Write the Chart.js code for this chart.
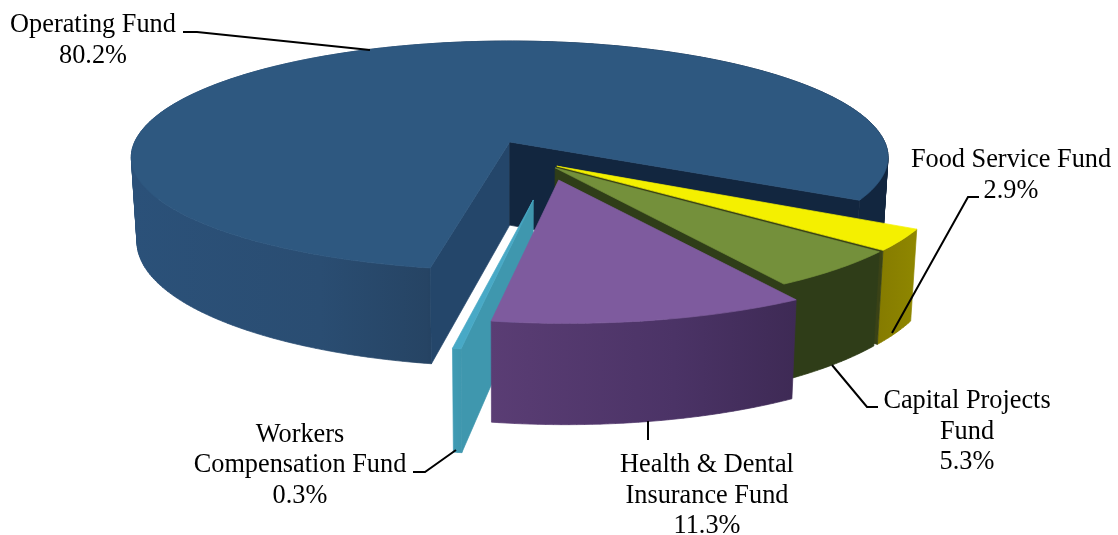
<!DOCTYPE html>
<html>
<head>
<meta charset="utf-8">
<title>Funds</title>
<script src="https://cdn.jsdelivr.net/npm/chart.js@4/dist/chart.umd.min.js"></script>
<style>
    html, body { margin: 0; padding: 0; background: #ffffff; }
    canvas { display: block; }
</style>
</head>
<body>
<canvas id="fundpie" width="1118" height="535"></canvas>
<script>
// values, clockwise from the yellow slice
var categories = ['Food Service Fund', 'Capital Projects Fund', 'Health & Dental Insurance Fund', 'Workers Compensation Fund', 'Operating Fund'];
var values = [2.9, 5.3, 11.3, 0.3, 80.2];
var labelLines = [
    ['Food Service Fund'],
    ['Capital Projects', 'Fund'],
    ['Health & Dental', 'Insurance Fund'],
    ['Workers', 'Compensation Fund'],
    ['Operating Fund']
];

// how far each slice is pulled out, in percent of the radius
var explode = [3, 5, 12.5, 28, 21.6];
var nudge = [[0.004, -0.008], [-0.0084, -0.0146], [0.008, -0.001], [0.0145, 0.0014], [-0.002, 0]];
var sizeScale = [0.987, 0.98, 1, 0.984, 1];
var frontFlat = [1, 1, 0.98, 1, 0.97];
var drawOrder = [4, 0, 1, 3, 2];

var topColors = ['#f4f000', '#74903b', '#7e5b9e', '#48a9c6', '#2e5880'];
var endColors = ['#3a4216', '#2f3d18', '#3f2a55', '#3b8fa8', '#12263f'];
var startColors = ['#8a7f00', '#2f3d18', '#54386f', '#3f97ae', '#24466a'];
var wallStops = [
    [[0, '#857b00'], [1, '#8f8700']],
    [[0, '#2f3d18'], [1, '#2f3d18']],
    [[0, '#5a3d74'], [0.6, '#4b3366'], [1, '#3e2a55']],
    [[0, '#3f9bb4'], [1, '#3f97ae']],
    [[0, '#2b5179'], [0.25, '#2a4d72'], [0.39, '#264464'], [0.48, '#12263f'], [1, '#12263f']]
];

var labelPos = [[1011, 167], [967, 408], [707, 472], [300, 441.5], [93, 32]];
var leaders = [
    [[979, 197], [968, 197], [892, 333]],
    [[832, 365], [867, 407], [878, 407]],
    [[648, 421], [648, 440]],
    [[456, 450], [425, 472], [413, 472]],
    [[183, 32], [197, 32], [370, 50]]
];

// perspective of the tilted disc
var view = { x0: 511, horizon: -690, h: 832, k: 0.138, f: 375, depth: 0.1, squeeze: 0.985 };
var centre = { x: 0.09, y: 0.195 };

function project(X, Y, bottom) {
    var w = 1 - view.k * Y;
    var sx = view.f * X / w;
    var sy = view.h / w;
    if (bottom) {
        return [view.x0 + sx * view.squeeze, view.horizon + sy * (1 + view.depth)];
    }
    return [view.x0 + sx, view.horizon + sy];
}

function addPoly(ctx, pts) {
    ctx.moveTo(pts[0][0], pts[0][1]);
    for (var i = 1; i < pts.length; i++) {
        ctx.lineTo(pts[i][0], pts[i][1]);
    }
    ctx.closePath();
}

function poly(ctx, pts, fill) {
    ctx.beginPath();
    addPoly(ctx, pts);
    ctx.fillStyle = fill;
    ctx.strokeStyle = fill;
    ctx.lineWidth = 0.7;
    ctx.fill();
    ctx.stroke();
}

function area(pts) {
    var s = 0;
    for (var i = 0; i < pts.length; i++) {
        var n = pts[(i + 1) % pts.length];
        s += pts[i][0] * n[1] - n[0] * pts[i][1];
    }
    return s;
}

function drawSlice(ctx, arc, i) {
    var a0 = arc.startAngle, a1 = arc.endAngle;
    var mid = (a0 + a1) / 2;
    var shift = arc.options.offset / 100;
    var cx = centre.x + Math.cos(mid) * shift + nudge[i][0];
    var cy = centre.y + Math.sin(mid) * shift + nudge[i][1];
    var steps = Math.max(2, Math.ceil((a1 - a0) * 180 / Math.PI));
    var top = [], bot = [];
    for (var s = 0; s <= steps; s++) {
        var a = a0 + (a1 - a0) * s / steps;
        var dx = Math.cos(a) * sizeScale[i];
        var dy = Math.sin(a) * sizeScale[i];
        if (dy > 0) {
            dy = dy * frontFlat[i];
        }
        top.push(project(cx + dx, cy + dy, false));
        bot.push(project(cx + dx, cy + dy, true));
    }
    var apexTop = project(cx, cy, false);
    var apexBot = project(cx, cy, true);

    // outer wall: all quads in one path, wound the same way, so no seams show
    var minX = Infinity, maxX = -Infinity;
    top.concat(bot).forEach(function(p) {
        minX = Math.min(minX, p[0]);
        maxX = Math.max(maxX, p[0]);
    });
    var grad = ctx.createLinearGradient(minX, 0, maxX, 0);
    wallStops[i].forEach(function(st) {
        grad.addColorStop(st[0], st[1]);
    });
    ctx.beginPath();
    for (var q = 0; q < steps; q++) {
        var quad = [top[q], top[q + 1], bot[q + 1], bot[q]];
        if (area(quad) < 0) {
            quad.reverse();
        }
        addPoly(ctx, quad);
    }
    ctx.fillStyle = grad;
    ctx.strokeStyle = grad;
    ctx.lineWidth = 0.7;
    ctx.fill();
    ctx.stroke();

    // the cut faces, only when they look at the viewer
    var startFace = [apexTop, top[0], bot[0], apexBot];
    var endFace = [apexTop, top[steps], bot[steps], apexBot];
    if (area(startFace) < 0) {
        poly(ctx, startFace, startColors[i]);
    }
    if (area(endFace) > 0) {
        poly(ctx, endFace, endColors[i]);
    }

    poly(ctx, [apexTop].concat(top), arc.options.backgroundColor);
}

var pie3d = {
    id: 'pie3d',
    beforeDatasetDraw: function(chart, args) {
        var ctx = chart.ctx;
        var arcs = args.meta.data;
        ctx.save();
        for (var n = 0; n < drawOrder.length; n++) {
            drawSlice(ctx, arcs[drawOrder[n]], drawOrder[n]);
        }
        ctx.restore();
        return false;
    },
    afterDraw: function(chart) {
        var ctx = chart.ctx;
        ctx.save();
        ctx.strokeStyle = '#000000';
        ctx.lineWidth = 2;
        for (var i = 0; i < leaders.length; i++) {
            ctx.beginPath();
            ctx.moveTo(leaders[i][0][0], leaders[i][0][1]);
            for (var j = 1; j < leaders[i].length; j++) {
                ctx.lineTo(leaders[i][j][0], leaders[i][j][1]);
            }
            ctx.stroke();
        }
        ctx.fillStyle = '#000000';
        ctx.font = '26.3px "Liberation Serif"';
        ctx.textAlign = 'center';
        ctx.textBaseline = 'alphabetic';
        for (var k = 0; k < categories.length; k++) {
            var lines = labelLines[k].concat([values[k].toFixed(1) + '%']);
            for (var l = 0; l < lines.length; l++) {
                ctx.fillText(lines[l], labelPos[k][0], labelPos[k][1] + l * 30.7);
            }
        }
        ctx.restore();
    }
};

var fundpie = new Chart(document.getElementById('fundpie'), {
    type: 'pie',
    data: {
        labels: categories,
        datasets: [{
            data: values,
            offset: explode,
            backgroundColor: topColors,
            borderWidth: 0
        }]
    },
    options: {
        responsive: false,
        maintainAspectRatio: false,
        animation: false,
        rotation: 119.3,
        plugins: {
            legend: { display: false },
            tooltip: { enabled: false }
        }
    },
    plugins: [pie3d]
});
</script>
</body>
</html>
